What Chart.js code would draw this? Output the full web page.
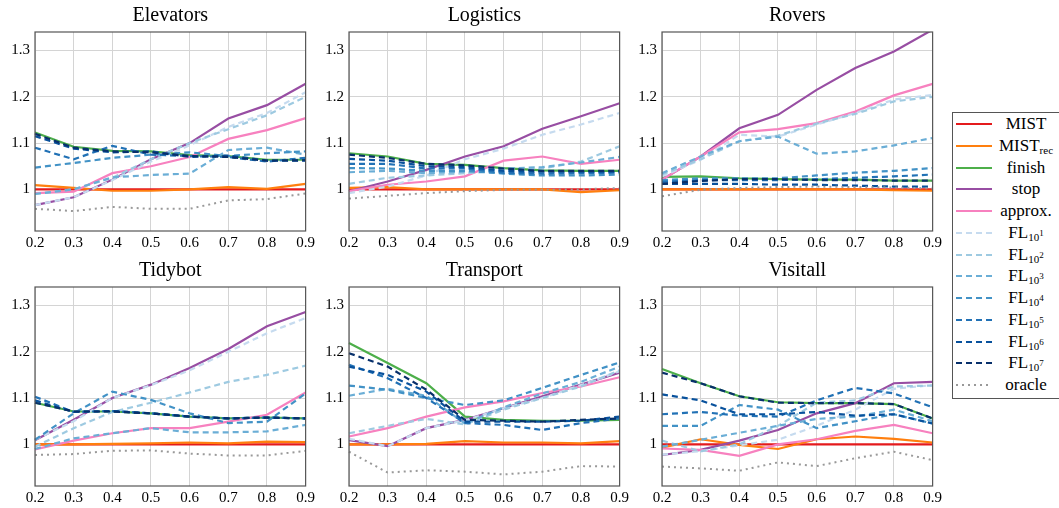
<!DOCTYPE html>
<html>
<head>
<meta charset="utf-8">
<script src="https://cdn.jsdelivr.net/npm/chart.js@4"></script>
<style>
  body { margin: 0; background: #fff; width: 1059px; height: 508px; overflow: hidden; position: relative; font-family: "Liberation Serif", serif; }
  canvas { position: absolute; }
  #legend { position: absolute; left: 952px; top: 112px; width: 112px; height: 285px; border: 1px solid #555; background: #fff; }
  .row { position: absolute; left: 0; width: 112px; height: 22px; }
  .row svg { position: absolute; left: 2px; top: 0; }
  .row span { position: absolute; left: 38px; width: 70px; top: 0; line-height: 22px; text-align: center; font-size: 17px; color: #000; white-space: nowrap; }
  sub { font-size: 11px; vertical-align: -3px; line-height: 0; }
  sup { font-size: 9px; vertical-align: 5px; line-height: 0; }
</style>
</head>
<body>
<div id="legend"></div>
<script>
// x values (ratio) and y ticks
var xLabels = ['0.2', '0.3', '0.4', '0.5', '0.6', '0.7', '0.8', '0.9'];
var yTicks = [1, 1.1, 1.2, 1.3];

// series, same order as legend
var seriesNames = ['MIST', 'MIST<sub>rec</sub>', 'finish', 'stop', 'approx.',
  'FL<sub>10<sup>1</sup></sub>', 'FL<sub>10<sup>2</sup></sub>', 'FL<sub>10<sup>3</sup></sub>',
  'FL<sub>10<sup>4</sup></sub>', 'FL<sub>10<sup>5</sup></sub>', 'FL<sub>10<sup>6</sup></sub>',
  'FL<sub>10<sup>7</sup></sub>', 'oracle'];
var seriesColors = ['#e41a1c', '#ff7f0e', '#4daf4a', '#984ea3', '#f781bf',
  '#c6dbef', '#9ecae1', '#6baed6', '#4292c6', '#2171b5', '#08519c', '#08306b', '#999999'];
var seriesDash = [[], [], [], [], [], [6, 4], [6, 4], [6, 4], [6, 4], [6, 4], [6, 4], [6, 4], [2, 4]];

// one row per series (MIST, MISTrec, finish, stop, approx, FL1..FL7, oracle)
var elevators = [
  [1, 1, 1, 1, 1, 1, 1, 1],
  [1.009, 1.003, 0.997, 0.997, 1.0, 1.005, 1.001, 1.012],
  [1.123, 1.092, 1.083, 1.082, 1.074, 1.072, 1.064, 1.064],
  [0.966, 0.983, 1.021, 1.065, 1.1, 1.153, 1.182, 1.228],
  [0.992, 0.995, 1.035, 1.05, 1.07, 1.109, 1.128, 1.154],
  [0.966, 0.983, 1.02, 1.06, 1.095, 1.135, 1.165, 1.21],
  [0.99, 1.0, 1.025, 1.065, 1.1, 1.13, 1.16, 1.2],
  [0.99, 1.0, 1.026, 1.031, 1.034, 1.085, 1.09, 1.075],
  [1.047, 1.057, 1.068, 1.075, 1.08, 1.072, 1.078, 1.082],
  [1.09, 1.065, 1.094, 1.075, 1.072, 1.07, 1.06, 1.068],
  [1.115, 1.088, 1.08, 1.082, 1.07, 1.073, 1.062, 1.062],
  [1.12, 1.09, 1.082, 1.08, 1.072, 1.07, 1.062, 1.063],
  [0.958, 0.953, 0.962, 0.958, 0.958, 0.976, 0.979, 0.991]
];
var logistics = [
  [1, 1, 1, 1, 1, 1, 1, 1],
  [1.003, 1.005, 1.0, 1.0, 1.0, 1.0, 0.994, 0.998],
  [1.078, 1.071, 1.055, 1.053, 1.046, 1.041, 1.04, 1.04],
  [0.996, 1.017, 1.042, 1.071, 1.093, 1.131, 1.158, 1.186],
  [0.996, 1.01, 1.017, 1.028, 1.062, 1.071, 1.055, 1.064],
  [0.992, 1.006, 1.03, 1.065, 1.088, 1.118, 1.14, 1.165],
  [1.012, 1.025, 1.03, 1.035, 1.04, 1.045, 1.06, 1.093],
  [1.037, 1.04, 1.035, 1.038, 1.045, 1.048, 1.058, 1.07],
  [1.046, 1.045, 1.04, 1.04, 1.034, 1.03, 1.03, 1.032],
  [1.055, 1.055, 1.045, 1.045, 1.036, 1.034, 1.035, 1.036],
  [1.066, 1.062, 1.05, 1.048, 1.04, 1.038, 1.038, 1.038],
  [1.075, 1.068, 1.055, 1.052, 1.045, 1.04, 1.04, 1.04],
  [0.98, 0.986, 0.992, 0.996, 0.999, 0.999, 1.0, 1.003]
];
var rovers = [
  [1, 1, 1, 1, 1, 1, 1, 1],
  [1, 1, 1, 1, 1, 1, 0.998, 0.997],
  [1.027, 1.028, 1.024, 1.022, 1.021, 1.021, 1.019, 1.019],
  [1.021, 1.071, 1.132, 1.161, 1.215, 1.262, 1.298, 1.345],
  [1.021, 1.071, 1.123, 1.13, 1.143, 1.168, 1.203, 1.228],
  [1.028, 1.064, 1.118, 1.114, 1.14, 1.165, 1.194, 1.204],
  [1.032, 1.065, 1.104, 1.116, 1.142, 1.163, 1.19, 1.2],
  [1.035, 1.071, 1.104, 1.114, 1.077, 1.082, 1.095, 1.111],
  [1.02, 1.024, 1.024, 1.024, 1.03, 1.036, 1.04, 1.046],
  [1.016, 1.02, 1.02, 1.02, 1.022, 1.025, 1.028, 1.032],
  [1.012, 1.012, 1.012, 1.01, 1.01, 1.008, 1.006, 1.006],
  [1.012, 1.018, 1.022, 1.022, 1.02, 1.02, 1.019, 1.019],
  [0.985, 0.999, 1.003, 1.005, 1.006, 1.005, 1.004, 1.002]
];
var tidybot = [
  [1, 1, 1, 1, 1, 1, 1, 1],
  [1.0, 1.0, 1.001, 1.002, 1.004, 1.002, 1.006, 1.005],
  [1.09, 1.071, 1.071, 1.067, 1.06, 1.056, 1.058, 1.056],
  [1.009, 1.053, 1.1, 1.129, 1.165, 1.206, 1.255, 1.286],
  [0.989, 1.008, 1.024, 1.035, 1.035, 1.049, 1.064, 1.112],
  [1.01, 1.05, 1.1, 1.128, 1.16, 1.2, 1.24, 1.273],
  [0.995, 1.035, 1.07, 1.09, 1.112, 1.135, 1.15, 1.17],
  [0.99, 1.013, 1.024, 1.035, 1.026, 1.026, 1.028, 1.042],
  [1.01, 1.067, 1.114, 1.096, 1.067, 1.046, 1.049, 1.11],
  [1.103, 1.07, 1.072, 1.067, 1.06, 1.056, 1.058, 1.056],
  [1.095, 1.07, 1.072, 1.067, 1.06, 1.056, 1.058, 1.056],
  [1.09, 1.071, 1.071, 1.067, 1.06, 1.056, 1.058, 1.056],
  [0.977, 0.979, 0.986, 0.987, 0.98, 0.976, 0.976, 0.986]
];
var transport = [
  [1, 1, 1, 1, 1, 1, 1, 1],
  [1.0, 1.0, 1.001, 1.007, 1.004, 1.004, 1.002, 1.007],
  [1.219, 1.176, 1.132, 1.06, 1.053, 1.051, 1.051, 1.053],
  [1.009, 0.996, 1.035, 1.053, 1.078, 1.104, 1.129, 1.155],
  [1.017, 1.035, 1.06, 1.08, 1.093, 1.111, 1.125, 1.145],
  [1.012, 0.996, 1.035, 1.052, 1.078, 1.1, 1.128, 1.158],
  [1.024, 1.04, 1.055, 1.043, 1.075, 1.1, 1.125, 1.16],
  [1.105, 1.12, 1.105, 1.045, 1.08, 1.11, 1.135, 1.168],
  [1.127, 1.118, 1.1, 1.085, 1.095, 1.122, 1.15, 1.177],
  [1.172, 1.143, 1.1, 1.046, 1.042, 1.031, 1.046, 1.056],
  [1.168, 1.15, 1.114, 1.049, 1.049, 1.049, 1.051, 1.06],
  [1.197, 1.168, 1.118, 1.053, 1.051, 1.049, 1.053, 1.056],
  [0.984, 0.939, 0.944, 0.941, 0.935, 0.941, 0.953, 0.952]
];
var visitall = [
  [1, 1, 1, 1, 1, 1, 1, 1],
  [0.993, 1.011, 0.999, 0.99, 1.011, 1.017, 1.012, 1.004],
  [1.163, 1.132, 1.104, 1.091, 1.089, 1.089, 1.087, 1.056],
  [0.977, 0.988, 1.008, 1.031, 1.067, 1.089, 1.132, 1.135],
  [0.991, 0.988, 0.975, 1.0, 1.011, 1.029, 1.042, 1.024],
  [0.978, 0.985, 0.998, 1.01, 1.04, 1.075, 1.12, 1.128],
  [1.008, 0.985, 1.0, 1.04, 1.09, 1.095, 1.125, 1.127],
  [0.995, 1.01, 1.025, 1.04, 1.055, 1.06, 1.075, 1.05],
  [1.04, 1.04, 1.085, 1.075, 1.035, 1.05, 1.065, 1.045],
  [1.065, 1.07, 1.062, 1.06, 1.095, 1.122, 1.11, 1.08],
  [1.108, 1.095, 1.065, 1.065, 1.07, 1.062, 1.065, 1.045],
  [1.155, 1.132, 1.104, 1.09, 1.089, 1.089, 1.087, 1.056],
  [0.952, 0.948, 0.943, 0.961, 0.953, 0.97, 0.984, 0.966]
];

var fontFamily = '"Liberation Serif", serif';

// box around the plot area
var frame = {
  id: 'frame',
  afterDatasetsDraw: function(chart) {
    var ctx = chart.ctx, a = chart.chartArea;
    ctx.save();
    ctx.strokeStyle = '#555';
    ctx.lineWidth = 1.2;
    ctx.strokeRect(a.left, a.top, a.right - a.left, a.bottom - a.top);
    ctx.restore();
  }
};

function makeChart(title, rows, left, top) {
  var canvas = document.createElement('canvas');
  canvas.width = 318;
  canvas.height = 252;
  canvas.style.left = left + 'px';
  canvas.style.top = top + 'px';
  document.body.appendChild(canvas);

  var datasets = [];
  for (var i = 0; i < rows.length; i++) {
    datasets.push({
      label: seriesNames[i],
      data: rows[i],
      borderColor: seriesColors[i],
      borderDash: seriesDash[i],
      borderWidth: i == 12 ? 2 : 2.2,
      pointRadius: 0,
      fill: false,
      tension: 0,
      order: rows.length - i
    });
  }

  return new Chart(canvas, {
    type: 'line',
    data: { labels: xLabels, datasets: datasets },
    options: {
      responsive: false,
      animation: false,
      devicePixelRatio: 1,
      layout: { padding: { left: 0, right: 12, top: 0, bottom: 0 } },
      plugins: {
        legend: { display: false },
        tooltip: { enabled: false },
        title: {
          display: true,
          text: title,
          fullSize: false,
          color: '#000',
          font: { family: fontFamily, size: 20, weight: 'normal', lineHeight: 1.2 },
          padding: { top: 4, bottom: 4 }
        }
      },
      scales: {
        x: {
          grid: { color: '#d4d4d4', drawTicks: false },
          border: { display: false },
          ticks: { color: '#000', font: { family: fontFamily, size: 15 }, padding: 3, maxRotation: 0, autoSkip: false },
          afterFit: function(s) { s.height = 21; }
        },
        y: {
          min: 0.91,
          max: 1.34,
          afterBuildTicks: function(s) { s.ticks = yTicks.map(function(v) { return { value: v }; }); },
          grid: { color: '#d4d4d4', drawTicks: false },
          border: { display: false },
          ticks: {
            color: '#000',
            font: { family: fontFamily, size: 15 },
            padding: 5,
            callback: function(v) { return String(+v.toFixed(1)); }
          },
          afterFit: function(s) { s.width = 35; }
        }
      }
    },
    plugins: [frame]
  });
}

makeChart('Elevators', elevators, 0, 0);
makeChart('Logistics', logistics, 314, 0);
makeChart('Rovers', rovers, 627, 0);
makeChart('Tidybot', tidybot, 0, 255);
makeChart('Transport', transport, 314, 255);
makeChart('Visitall', visitall, 627, 255);

// legend with sub/superscripts
var legend = document.getElementById('legend');
for (var i = 0; i < seriesNames.length; i++) {
  var row = document.createElement('div');
  row.className = 'row';
  row.style.top = (i * 21.75) + 'px';
  var dash = seriesDash[i].length ? ' stroke-dasharray="' + seriesDash[i].join(' ') + '"' : '';
  row.innerHTML = '<svg width="38" height="22"><line x1="1" y1="11" x2="37" y2="11" stroke="' +
    seriesColors[i] + '" stroke-width="2"' + dash + '/></svg><span>' + seriesNames[i] + '</span>';
  legend.appendChild(row);
}
</script>
</body>
</html>
